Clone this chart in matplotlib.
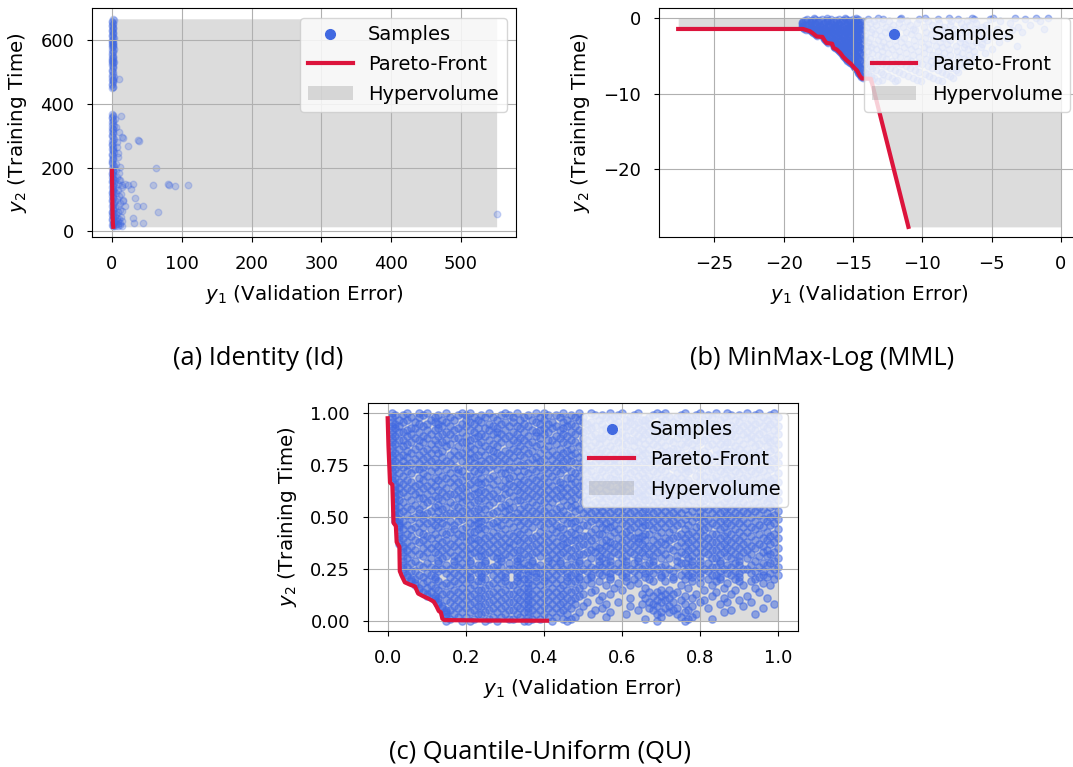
import matplotlib.pyplot as plt
from matplotlib.lines import Line2D
from matplotlib.patches import Patch

plt.rcParams['font.family'] = ['DejaVu Sans']
plt.rcParams['xtick.labelsize'] = 13
plt.rcParams['ytick.labelsize'] = 13
plt.rcParams['axes.labelsize'] = 14.3

# ---------------- (a) Identity (Id) ----------------
# samples (y1, y2)
id_samples = [
    # column at y1 ~ 0, upper cluster
    (0, 450), (1, 455), (0.5, 462), (2, 468), (0, 474), (1, 480), (3, 486), (0, 492), (1.5, 500),
    (0.5, 508), (2, 515), (0, 522), (1, 528), (2.5, 531), (0, 535), (1, 540), (0.5, 546), (2, 552),
    (0, 560), (1.5, 568), (3, 574), (0, 580), (1, 585), (2, 589), (0.5, 593), (0, 598), (1, 603),
    (3, 608), (0, 614), (2, 620), (1, 626), (0, 632), (1.5, 638), (0.5, 645), (2, 652), (0, 658),
    (3, 664), (1, 667), (10.5, 478),
    (1, 452), (0, 459), (2, 471), (1, 477), (0, 484), (1, 496), (0, 504), (1, 512), (2, 519),
    (0, 528), (1, 533), (0, 538), (2, 544), (1, 549), (0, 555), (1, 563), (0, 571), (2, 578),
    (1, 582), (0, 587), (1, 591), (2, 596), (0, 601), (1, 610), (0, 618), (1, 623), (0, 629),
    (2, 635), (1, 642), (0, 649), (1, 655), (0, 662),
    # column at y1 ~ 0, lower part
    (0, 368), (1, 362), (0.5, 356), (2, 350), (0, 344), (1, 338), (3, 332), (0, 326), (1.5, 320),
    (0.5, 314), (2, 308), (0, 302), (1, 296), (2.5, 290), (0, 284), (1, 278), (0.5, 272), (2, 266),
    (0, 260), (1.5, 254), (3, 248), (0, 242), (1, 236), (2, 230), (0.5, 224), (0, 218), (1, 212),
    (3, 206), (0, 200), (2, 194), (1, 188), (0, 182), (1.5, 176), (0.5, 170), (2, 164), (0, 158),
    (3, 152), (1, 146), (0, 140), (2, 134), (1, 128), (0, 122), (1.5, 116), (0.5, 110), (2, 104),
    (0, 98), (3, 92), (1, 86), (0, 80), (2, 74), (1, 68), (0, 62), (1.5, 56), (0.5, 50), (2, 44),
    (0, 38), (3, 32), (1, 26), (0, 20), (2, 15),
    (1, 365), (0, 359), (1, 347), (0, 335), (2, 323), (1, 311), (0, 299), (1, 287), (0, 275),
    (2, 263), (1, 251), (0, 239), (1, 227), (0, 215), (2, 203), (1, 191), (0, 179), (1, 167),
    (0, 155), (2, 143), (1, 131), (0, 119), (1, 107), (0, 95), (2, 83), (1, 71), (0, 59), (1, 47),
    (0, 35), (2, 23), (1, 17),
    # fan close to the front
    (4, 18), (6, 22), (9, 16), (12, 20), (15, 17), (5, 28), (8, 33), (11, 27), (14, 31), (7, 42),
    (10, 38), (4, 47), (13, 45), (6, 55), (9, 60), (12, 66), (5, 72), (8, 80), (11, 88), (4, 94),
    (7, 102), (10, 112), (6, 120), (9, 130), (5, 140), (8, 150), (4, 160), (7, 170), (10, 182),
    (6, 192), (14, 64), (16, 95), (13, 118), (15, 138), (11, 160), (3, 125), (3, 58), (5, 36),
    (8, 24), (8, 245), (7, 281), (10, 312), (4, 352), (9, 232), (6, 210),
    # scattered
    (12.9, 362), (5.7, 327), (14.6, 297), (16, 294), (23.4, 268), (37.7, 287), (39, 285),
    (6.7, 266), (11.5, 203), (62.6, 198), (30.6, 148), (26.7, 132), (59.3, 146), (80, 148),
    (81, 145), (89.6, 143), (109, 146), (33, 106), (35.4, 79), (45, 79), (66.4, 60), (29.6, 43),
    (32, 26), (44, 26), (18.6, 78), (16.2, 99), (14, 146), (9.6, 162), (18.6, 148), (22.4, 144),
    (551, 54),
]
id_front_x = [0.0, 0.3, 0.6, 0.9, 1.3, 1.8]
id_front_y = [190, 140, 90, 50, 25, 14]
id_ref = (551, 668)

# ---------------- (b) MinMax-Log (MML) ----------------
mml_front_x = [-27.6, -18.6, -18.1, -17.9, -17.6, -17.2, -17.05, -16.9, -16.5, -16.4, -16.15,
               -15.9, -15.7, -15.45, -15.15, -14.9, -14.7, -14.5, -14.35, -13.7, -11.0]
mml_front_y = [-1.4, -1.4, -1.7, -1.95, -2.4, -2.45, -2.9, -3.25, -3.35, -3.9, -4.15,
               -4.6, -5.1, -5.55, -6.0, -6.55, -6.9, -7.6, -7.95, -8.0, -27.6]
mml_ref = (0.0, 0.0)
# samples listed row by row: one y2 value, many y1 values
mml_row_y = [0.0, -0.1, -0.22, -0.35, -0.47, -0.6, -0.72, -0.85, -0.97, -1.1, -1.22, -1.35,
             -1.47, -1.6, -1.72, -1.85, -1.97, -2.1, -2.22, -2.35, -2.47, -2.6, -2.72, -2.85,
             -2.97, -3.1, -3.22, -3.35, -3.47, -3.6, -3.72, -3.85, -3.97, -4.1, -4.22, -4.35,
             -4.47, -4.6, -4.72, -4.85, -4.97, -5.1, -5.22, -5.35, -5.47, -5.6, -5.72, -5.85,
             -5.97, -6.1, -6.22, -6.35, -6.47, -6.6, -6.72, -6.85, -6.97, -7.1, -7.22, -7.35,
             -7.47, -7.6, -7.72, -7.85, -8.1, -8.3]
mml_row_x = [
    [-17.8, -16.9, -15.6, -14.8, -13.2, -11.5, -9.8, -8.1, -6.4, -4.9, -3.3, -1.8, -0.9],
    [-18.3, -17.7, -17.2, -16.6, -16.0, -15.5, -15.0, -14.6, -13.9, -12.8, -11.6, -10.2, -8.9, -7.4, -6.3, -5.1, -2.6],
    [-18.45, -17.95, -17.45, -16.85, -16.25, -15.75, -15.25, -14.75],
    [-18.6, -18.1, -17.5, -16.9, -16.4, -15.8, -15.3, -14.8, -14.3, -13.5, -12.4, -11.1, -9.6, -7.9, -6.8, -4.4, -1.5],
    [-18.65, -18.05, -17.55, -17.0, -16.45, -15.95, -15.45, -14.95, -14.5],
    [-18.7, -18.2, -17.7, -17.1, -16.6, -16.1, -15.6, -15.1, -14.6, -13.8, -12.9, -11.7, -10.4, -8.8, -7.2, -6.1, -3.7],
    [-18.7, -18.1, -17.6, -17.05, -16.5, -16.0, -15.45, -14.95, -14.5],
    [-18.6, -18.0, -17.4, -16.8, -16.3, -15.9, -15.3, -14.9, -14.4, -13.3, -12.1, -10.9, -9.3, -8.0, -6.6, -5.4, -2.2],
    [-18.65, -18.15, -17.6, -17.1, -16.55, -16.05, -15.5, -15.05, -14.55],
    [-18.7, -18.3, -17.8, -17.2, -16.7, -16.2, -15.7, -15.2, -14.7, -14.0, -12.6, -11.4, -9.9, -8.4, -7.0, -5.7, -3.1],
    [-18.6, -18.1, -17.6, -17.05, -16.55, -16.0, -15.5, -15.0, -14.55],
    [-18.5, -18.0, -17.5, -17.0, -16.4, -15.9, -15.4, -14.9, -14.5, -13.6, -12.3, -10.7, -9.1, -7.7, -6.2, -4.6, -1.2],
    [-18.35, -17.9, -17.35, -16.85, -16.3, -15.8, -15.3, -14.8],
    [-18.2, -17.8, -17.3, -16.8, -16.3, -15.7, -15.2, -14.7, -14.2, -13.1, -11.9, -10.5, -8.6, -7.1, -5.9, -3.5],
    [-18.0, -17.6, -17.05, -16.55, -16.05, -15.5, -15.0, -14.55],
    [-17.95, -17.5, -17.0, -16.5, -16.0, -15.5, -15.0, -14.6, -13.7, -12.7, -11.2, -9.7, -8.3, -6.9, -5.2, -2.8],
    [-17.85, -17.4, -16.9, -16.4, -15.9, -15.4, -14.9],
    [-17.75, -17.3, -16.8, -16.3, -15.8, -15.3, -14.8, -14.4, -13.4, -12.2, -10.8, -9.4, -7.8, -6.5, -4.1],
    [-17.65, -17.2, -16.65, -16.15, -15.65, -15.15, -14.6],
    [-17.6, -17.1, -16.6, -16.1, -15.6, -15.1, -14.7, -14.1, -13.0, -11.8, -10.3, -8.9, -7.5, -6.0, -4.8],
    [-17.15, -16.7, -16.2, -15.7, -15.2, -14.7],
    [-17.1, -16.65, -16.2, -15.7, -15.25, -14.8, -14.4, -13.8, -12.5, -11.3, -9.8, -8.5, -7.2, -5.6, -3.9],
    [-17.05, -16.6, -16.1, -15.6, -15.1, -14.6],
    [-17.0, -16.55, -16.05, -15.55, -15.05, -14.6, -14.2, -13.2, -12.0, -10.6, -9.2, -8.0, -6.7, -5.3],
    [-16.95, -16.5, -16.0, -15.55, -15.05, -14.6],
    [-16.9, -16.45, -16.0, -15.5, -15.0, -14.6, -13.9, -12.8, -11.5, -10.1, -8.7, -7.3, -6.1, -4.5],
    [-16.8, -16.35, -15.85, -15.35, -14.9],
    [-16.45, -16.05, -15.6, -15.15, -14.75, -14.4, -13.5, -12.4, -11.0, -9.6, -8.2, -6.9, -5.7],
    [-16.4, -16.0, -15.55, -15.1, -14.65],
    [-16.4, -15.95, -15.5, -15.0, -14.6, -14.0, -13.0, -11.9, -10.5, -9.0, -7.6, -6.4, -3.2],
    [-16.35, -15.9, -15.45, -14.95, -14.5],
    [-16.35, -15.85, -15.4, -14.9, -14.5, -13.7, -12.7, -11.3, -9.9, -8.6, -7.0, -5.8],
    [-16.3, -15.8, -15.35, -14.85],
    [-16.15, -15.7, -15.2, -14.8, -14.3, -13.3, -12.2, -10.8, -9.5, -8.1, -6.7, -5.0],
    [-16.05, -15.6, -15.1, -14.65],
    [-16.0, -15.5, -15.0, -14.6, -13.9, -12.9, -11.7, -10.3, -8.9, -7.5, -6.3],
    [-15.95, -15.45, -15.0, -14.5],
    [-15.85, -15.4, -14.9, -14.5, -13.6, -12.5, -11.2, -9.9, -8.4, -7.1, -5.5],
    [-15.8, -15.35, -14.85],
    [-15.75, -15.3, -14.8, -14.3, -13.2, -12.0, -10.7, -9.3, -8.0, -6.6],
    [-15.7, -15.25, -14.75],
    [-15.65, -15.2, -14.7, -14.1, -12.9, -11.6, -10.2, -8.8, -7.4, -6.2],
    [-15.6, -15.1, -14.65],
    [-15.5, -15.0, -14.6, -13.8, -12.6, -11.1, -9.7, -8.5, -7.0],
    [-15.45, -14.95, -14.5],
    [-15.4, -14.9, -14.5, -13.5, -12.2, -10.8, -9.4, -8.1, -6.8],
    [-15.3, -14.85],
    [-15.2, -14.8, -14.3, -13.2, -11.9, -10.4, -9.0, -7.7, -6.5],
    [-15.15, -14.7],
    [-15.05, -14.7, -14.1, -12.9, -11.5, -10.0, -8.6, -7.3],
    [-15.0, -14.6],
    [-14.95, -14.6, -13.8, -12.6, -11.2, -9.6, -8.3, -7.0],
    [-14.9, -14.5],
    [-14.85, -14.5, -13.6, -12.3, -10.9, -9.3, -7.9],
    [-14.75, -14.4],
    [-14.7, -14.3, -13.3, -12.0, -10.5, -8.9, -7.6],
    [-14.65],
    [-14.6, -14.1, -13.0, -11.7, -10.2, -8.6, -7.4],
    [-14.6],
    [-14.55, -13.9, -12.8, -11.4, -9.8, -8.3],
    [-14.5],
    [-14.45, -13.7, -12.5, -11.0, -9.5, -8.0],
    [-14.4],
    [-14.3, -13.5, -12.2, -10.7, -9.2, -7.8],
    [-13.6, -12.9, -11.8, -10.4, -8.9],
    [-13.2, -12.0, -10.1, -8.6],
]

# ---------------- (c) Quantile-Uniform (QU) ----------------
qu_front_x = [0.000, 0.002, 0.006, 0.012, 0.015, 0.021, 0.023, 0.030, 0.031, 0.036, 0.044, 0.057,
              0.070, 0.078, 0.091, 0.104, 0.118, 0.125, 0.131, 0.136, 0.140, 0.145, 0.250, 0.408]
qu_front_y = [0.976, 0.844, 0.666, 0.655, 0.472, 0.456, 0.379, 0.356, 0.239, 0.216, 0.185, 0.174,
              0.165, 0.131, 0.118, 0.107, 0.092, 0.069, 0.046, 0.041, 0.010, 0.003, 0.001, 0.000]
qu_ref = (1.0, 1.0)
# samples row by row, values in hundredths
qu_row_y = [100, 99, 98, 97, 96, 95, 94, 93, 92, 91, 90, 89, 88, 87, 86, 85, 84, 83, 82, 81, 80,
            79, 78, 77, 76, 75, 74, 73, 72, 71, 70, 69, 68, 67, 66, 65, 64, 63, 62, 61, 60,
            59, 58, 57, 56, 55, 54, 53, 52, 51, 50, 49, 48, 47, 46, 45, 44, 43, 42, 41, 40,
            39, 38, 37, 36, 35, 34, 33, 32, 31, 30, 29, 28, 27, 26, 25, 24, 23, 22, 21, 20,
            19, 18, 17, 16, 15, 14, 13, 12, 11, 10, 9, 8, 7, 6, 5, 4, 3, 2, 1, 0]
qu_row_x = [
    [1, 5, 8, 10, 15, 19, 21, 26, 30, 33, 38, 40, 45, 49, 52, 57, 60, 64, 69, 71, 76, 80, 84, 87, 92, 95, 99],
    [2, 4, 9, 13, 18, 20, 24, 29, 31, 36, 41, 43, 47, 53, 55, 59, 63, 68, 70, 75, 79, 82, 88, 90, 94, 98],
    [1, 6, 8, 12, 16, 22, 25, 27, 32, 35, 39, 44, 48, 50, 56, 58, 62, 67, 72, 74, 78, 83, 86, 91, 96, 100],
    [3, 5, 11, 14, 17, 20, 23, 28, 34, 37, 40, 46, 49, 54, 57, 61, 65, 66, 71, 77, 81, 85, 89, 93, 97],
    [1, 4, 7, 12, 15, 21, 24, 30, 32, 38, 42, 45, 50, 52, 59, 62, 64, 70, 73, 76, 80, 87, 90, 95, 99],
    [2, 8, 10, 13, 19, 22, 26, 29, 35, 39, 41, 47, 51, 55, 58, 63, 67, 69, 74, 79, 83, 84, 92, 94, 98],
    [1, 3, 9, 14, 16, 20, 27, 31, 33, 36, 43, 46, 48, 53, 60, 61, 66, 71, 75, 78, 82, 88, 91, 96, 100],
    [2, 6, 7, 13, 18, 23, 25, 28, 34, 40, 42, 45, 52, 56, 57, 64, 68, 70, 76, 80, 85, 89, 93, 97],
    [1, 5, 10, 12, 17, 21, 26, 30, 37, 39, 44, 49, 51, 55, 62, 65, 69, 73, 77, 81, 86, 90, 94, 99],
    [3, 4, 8, 15, 19, 22, 28, 32, 35, 38, 41, 47, 50, 58, 60, 63, 67, 72, 74, 79, 84, 87, 92, 96],
    [1, 6, 11, 14, 16, 24, 27, 29, 33, 40, 45, 48, 53, 56, 59, 66, 70, 75, 78, 83, 88, 91, 95, 100],
    [2, 5, 9, 13, 20, 23, 25, 31, 36, 38, 43, 46, 52, 57, 61, 64, 68, 71, 77, 80, 85, 89, 93, 98],
    [1, 7, 10, 17, 18, 22, 28, 30, 34, 39, 44, 50, 54, 55, 60, 65, 69, 74, 76, 82, 86, 92, 94, 97],
    [3, 4, 8, 12, 15, 21, 26, 32, 35, 41, 42, 47, 51, 58, 62, 63, 67, 72, 79, 81, 84, 90, 96, 99],
    [1, 6, 9, 14, 19, 20, 24, 29, 33, 37, 45, 48, 53, 56, 59, 64, 70, 73, 77, 80, 87, 88, 93, 98],
    [2, 5, 11, 13, 16, 23, 27, 31, 36, 39, 43, 46, 50, 54, 61, 66, 68, 75, 78, 83, 85, 91, 95, 100],
    [1, 4, 8, 15, 18, 21, 25, 28, 34, 38, 41, 49, 52, 57, 60, 63, 69, 71, 76, 82, 86, 89, 94, 97],
    [3, 7, 10, 12, 20, 22, 26, 32, 35, 40, 44, 47, 51, 55, 58, 65, 67, 73, 74, 79, 84, 90, 92, 99],
    [1, 5, 9, 14, 17, 24, 27, 30, 33, 37, 42, 46, 53, 56, 62, 64, 70, 72, 78, 81, 87, 88, 95, 98],
    [2, 6, 11, 13, 19, 21, 28, 31, 36, 39, 45, 48, 50, 54, 59, 61, 66, 71, 75, 80, 85, 91, 93, 96],
    [1, 4, 8, 16, 18, 23, 25, 29, 34, 41, 43, 47, 52, 57, 60, 65, 68, 74, 77, 82, 84, 89, 94, 100],
    [3, 5, 10, 14, 20, 22, 27, 32, 35, 38, 44, 49, 51, 55, 62, 63, 69, 72, 76, 79, 86, 90, 92, 97],
    [1, 7, 9, 12, 17, 21, 26, 30, 37, 40, 42, 46, 54, 56, 58, 64, 67, 73, 78, 81, 83, 88, 95, 99],
    [2, 4, 11, 15, 19, 24, 28, 31, 33, 39, 45, 47, 50, 57, 61, 66, 70, 71, 75, 80, 87, 91, 93, 98],
    [1, 6, 8, 13, 16, 22, 25, 29, 36, 38, 43, 48, 53, 55, 59, 62, 68, 74, 77, 82, 85, 89, 96, 100],
    [3, 5, 10, 14, 20, 23, 27, 34, 35, 41, 44, 51, 52, 58, 63, 65, 69, 72, 79, 81, 86, 90, 94, 97],
    [1, 4, 9, 12, 17, 21, 26, 30, 32, 39, 42, 46, 49, 56, 60, 64, 67, 73, 76, 80, 84, 88, 92, 99],
    [2, 7, 8, 15, 18, 24, 28, 31, 37, 40, 45, 50, 54, 57, 61, 66, 70, 75, 78, 83, 87, 91, 95, 98],
    [1, 5, 11, 13, 19, 22, 25, 33, 35, 38, 43, 47, 52, 55, 59, 63, 68, 71, 77, 82, 85, 89, 93, 96],
    [3, 6, 9, 16, 18, 23, 29, 30, 36, 41, 44, 48, 51, 58, 62, 65, 69, 74, 76, 80, 86, 90, 94, 100],
    [1, 4, 10, 14, 20, 21, 27, 32, 34, 39, 42, 49, 53, 56, 60, 64, 67, 72, 79, 81, 84, 88, 92, 97],
    [2, 8, 12, 15, 17, 24, 26, 31, 37, 40, 46, 47, 54, 57, 61, 66, 70, 73, 75, 83, 87, 91, 95, 99],
    [1, 5, 9, 13, 19, 22, 28, 30, 35, 38, 43, 50, 52, 58, 59, 63, 68, 71, 77, 80, 85, 89, 93, 98],
    [3, 6, 11, 16, 18, 23, 25, 33, 36, 41, 44, 48, 51, 55, 62, 65, 69, 74, 76, 82, 84, 90, 96, 100],
    [2, 4, 8, 14, 21, 24, 27, 31, 34, 39, 45, 47, 53, 56, 60, 64, 67, 72, 78, 81, 86, 88, 94, 97],
    [2, 7, 10, 12, 17, 20, 29, 32, 37, 40, 42, 49, 50, 57, 61, 66, 70, 73, 75, 80, 85, 91, 92, 99],
    [3, 5, 9, 15, 19, 22, 26, 30, 35, 38, 44, 46, 52, 54, 59, 63, 68, 71, 77, 79, 87, 89, 95, 98],
    [2, 6, 11, 13, 18, 24, 28, 33, 36, 41, 43, 48, 51, 56, 60, 65, 67, 74, 76, 82, 84, 90, 93, 96],
    [2, 4, 8, 14, 20, 23, 25, 31, 34, 39, 45, 47, 53, 58, 61, 64, 69, 72, 78, 81, 86, 88, 94, 100],
    [3, 7, 10, 16, 17, 22, 27, 30, 37, 40, 42, 49, 52, 55, 59, 63, 66, 71, 75, 80, 85, 91, 92, 97],
    [2, 5, 12, 15, 19, 21, 26, 32, 35, 38, 44, 46, 50, 57, 62, 65, 68, 73, 77, 79, 83, 89, 95, 99],
    [2, 8, 9, 13, 18, 24, 28, 29, 36, 41, 43, 48, 54, 56, 60, 64, 70, 72, 76, 82, 87, 90, 93, 98],
    [3, 6, 11, 14, 20, 23, 25, 33, 34, 39, 45, 47, 51, 58, 61, 66, 67, 74, 78, 81, 84, 88, 96, 100],
    [2, 4, 10, 16, 19, 22, 27, 31, 37, 40, 42, 50, 53, 55, 59, 63, 69, 71, 75, 80, 86, 91, 94, 97],
    [2, 7, 9, 13, 17, 21, 26, 30, 35, 38, 46, 48, 52, 57, 62, 65, 68, 73, 77, 83, 85, 89, 92, 99],
    [3, 5, 12, 15, 18, 24, 29, 32, 36, 41, 44, 47, 54, 56, 60, 64, 70, 72, 79, 81, 87, 90, 95, 98],
    [2, 6, 8, 14, 20, 23, 25, 31, 34, 39, 43, 49, 51, 58, 61, 66, 67, 74, 76, 82, 84, 88, 93, 96],
    [2, 4, 11, 13, 19, 22, 28, 30, 37, 40, 45, 48, 53, 55, 59, 63, 69, 71, 78, 80, 86, 91, 94, 100],
    [3, 8, 10, 16, 17, 21, 27, 33, 35, 38, 42, 50, 52, 57, 62, 65, 68, 73, 75, 83, 85, 89, 92, 97],
    [2, 5, 9, 15, 18, 24, 26, 31, 36, 41, 44, 46, 54, 56, 60, 64, 70, 72, 77, 81, 87, 90, 95, 99],
    [2, 7, 12, 14, 20, 23, 29, 32, 34, 39, 43, 47, 51, 58, 61, 66, 67, 74, 79, 80, 84, 88, 93, 98],
    [3, 6, 9, 13, 19, 22, 25, 30, 37, 40, 45, 49, 53, 55, 59, 63, 69, 71, 76, 82, 86, 91, 96, 100],
    [2, 4, 11, 16, 18, 24, 28, 33, 35, 38, 42, 48, 52, 57, 62, 65, 68, 73, 78, 81, 85, 89, 94, 97],
    [3, 8, 10, 14, 21, 23, 27, 31, 36, 41, 46, 47, 54, 56, 60, 64, 70, 72, 75, 83, 87, 90, 92, 99],
    [3, 5, 12, 15, 17, 22, 26, 29, 34, 39, 43, 50, 51, 58, 61, 66, 67, 74, 77, 80, 84, 88, 95, 98],
    [3, 7, 9, 13, 20, 24, 28, 32, 37, 40, 44, 48, 55, 57, 63, 65, 69, 71, 79, 82, 86, 91, 93, 96],
    [4, 6, 11, 17, 19, 23, 25, 30, 35, 42, 45, 49, 53, 56, 59, 62, 68, 73, 76, 81, 85, 89, 94, 100],
    [3, 8, 14, 16, 21, 22, 27, 33, 36, 39, 43, 47, 52, 58, 61, 64, 70, 72, 78, 80, 87, 90, 92, 97],
    [5, 9, 12, 15, 18, 24, 29, 31, 34, 41, 46, 48, 54, 55, 60, 66, 67, 75, 77, 83, 84, 88, 95, 99],
    [3, 6, 10, 19, 20, 26, 28, 32, 38, 40, 44, 50, 51, 57, 62, 65, 69, 74, 79, 81, 86, 91, 93, 98],
    [4, 11, 13, 17, 22, 25, 30, 35, 37, 42, 45, 49, 53, 59, 63, 64, 71, 73, 76, 82, 85, 89, 96, 100],
    [3, 7, 9, 15, 21, 23, 27, 33, 36, 39, 47, 48, 52, 56, 61, 66, 68, 72, 78, 80, 87, 90, 94, 97],
    [5, 8, 14, 18, 20, 24, 29, 31, 34, 41, 43, 46, 55, 57, 60, 64, 70, 75, 77, 83, 84, 88, 92, 99],
    [3, 10, 12, 16, 22, 26, 28, 32, 38, 40, 45, 50, 51, 58, 62, 65, 69, 71, 79, 81, 86, 91, 95, 98],
    [4, 6, 13, 17, 19, 25, 30, 35, 37, 42, 44, 49, 53, 56, 59, 63, 67, 74, 76, 82, 85, 89, 93, 96],
    [4, 9, 11, 15, 21, 23, 27, 31, 36, 39, 46, 48, 54, 57, 61, 66, 68, 72, 78, 80, 87, 90, 94, 100],
    [5, 7, 14, 18, 20, 24, 29, 33, 34, 41, 43, 47, 52, 55, 60, 64, 70, 73, 77, 83, 84, 88, 92, 97],
    [4, 10, 12, 16, 22, 26, 28, 32, 38, 40, 45, 51, 53, 58, 62, 65, 69, 75, 79, 81, 86, 91, 96, 99],
    [6, 8, 13, 19, 21, 25, 30, 35, 37, 42, 44, 49, 50, 56, 59, 63, 67, 71, 76, 82, 85, 89, 93, 98],
    [4, 9, 15, 17, 23, 24, 27, 31, 36, 39, 46, 48, 54, 57, 61, 66, 68, 74, 78, 80, 87, 90, 95, 97],
    [5, 11, 14, 18, 20, 28, 29, 33, 34, 41, 43, 47, 52, 55, 60, 64, 70, 72, 77, 83, 84, 88, 92, 100],
    [4, 7, 13, 17, 21, 25, 29, 33, 37, 41, 44, 49, 54, 57, 61, 64, 68, 74, 78, 80, 85, 90, 94, 99],
    [6, 10, 13, 19, 21, 25, 31, 35, 37, 42, 44, 49, 51, 56, 59, 63, 67, 75, 76, 82, 85, 89, 96, 98],
    [4, 8, 15, 17, 23, 24, 28, 33, 36, 39, 46, 48, 54, 57, 61, 66, 68, 71, 78, 80, 87, 90, 93, 97],
    [5, 9, 11, 18, 20, 27, 29, 34, 38, 41, 43, 47, 52, 55, 60, 64, 70, 74, 77, 83, 84, 88, 95, 100],
    [4, 12, 14, 16, 22, 26, 31, 32, 35, 40, 45, 50, 53, 58, 62, 65, 69, 72, 79, 81, 86, 91, 92, 99],
    [6, 7, 13, 19, 21, 25, 28, 36, 37, 42, 44, 49, 51, 56, 59, 63, 67, 73, 76, 82, 85, 89, 94, 96],
    [4, 10, 15, 17, 23, 24, 30, 33, 38, 39, 46, 48, 54, 57, 61, 66, 68, 71, 78, 80, 87, 90, 93, 98],
    [5, 8, 11, 18, 20, 27, 29, 34, 36, 41, 43, 47, 52, 55, 60, 64, 70, 75, 77, 83, 84, 88, 96, 100],
    [5, 9, 12, 16, 21, 24, 30, 33, 38, 40, 46, 49, 52, 57, 61, 66, 70, 73, 78, 80, 85, 90, 95, 97],
    [6, 7, 12, 19, 21, 25, 28, 35, 36, 42, 44, 49, 51, 57, 63, 67, 73, 76, 82, 85, 89, 94, 99],
    [6, 10, 13, 17, 23, 24, 30, 33, 38, 40, 46, 48, 54, 61, 68, 71, 78, 84, 90, 93],
    [7, 9, 15, 18, 20, 27, 29, 34, 36, 41, 43, 47, 52, 59, 64, 80, 87, 96],
    [7, 11, 14, 16, 22, 26, 31, 32, 37, 39, 45, 50, 56, 62, 75, 83, 91, 98],
    [8, 10, 12, 19, 21, 25, 28, 35, 36, 42, 44, 49, 58, 66, 77, 86, 94],
    [8, 13, 17, 23, 24, 30, 33, 38, 40, 46, 48, 53, 60, 70, 72, 81, 89],
    [9, 11, 15, 18, 20, 27, 29, 34, 36, 41, 43, 47, 52, 67, 69, 74, 84, 95],
    [10, 14, 16, 22, 26, 31, 32, 37, 39, 45, 50, 57, 65, 71, 73, 79, 88],
    [10, 12, 19, 21, 25, 28, 35, 36, 42, 44, 49, 55, 68, 70, 76, 83, 92],
    [12, 13, 17, 23, 24, 30, 33, 38, 40, 46, 48, 62, 66, 72, 78, 86, 97],
    [12, 15, 18, 20, 27, 29, 34, 36, 41, 43, 47, 54, 69, 71, 75, 81, 90],
    [13, 16, 22, 26, 31, 32, 37, 39, 45, 51, 59, 67, 70, 73, 80, 87, 93],
    [13, 19, 21, 25, 28, 35, 36, 42, 44, 48, 56, 65, 68, 76, 85, 99],
    [14, 17, 23, 24, 30, 33, 38, 40, 46, 50, 62, 69, 72, 78, 91],
    [14, 18, 20, 27, 29, 34, 36, 41, 43, 47, 55, 67, 71, 74, 82, 96],
    [15, 16, 22, 26, 31, 32, 37, 39, 45, 53, 64, 68, 73, 77, 88],
    [15, 19, 21, 25, 28, 35, 36, 42, 44, 49, 57, 70, 72, 76, 86],
    [15, 17, 23, 24, 30, 33, 38, 40, 46, 52, 61, 69, 74, 79, 94],
    [15, 18, 20, 27, 29, 34, 36, 41, 43, 48, 56, 70, 75, 78],
    [16, 22, 26, 31, 32, 37, 39, 45, 47, 66, 77, 83],
    [15, 19, 21, 25, 28, 35, 36, 42, 46, 69, 76],
]


def rows_to_points(row_y, row_x, scale=1.0):
    xs, ys = [], []
    for y, row in zip(row_y, row_x, strict=True):
        for x in row:
            xs.append(x / scale)
            ys.append(y / scale)
    return xs, ys


def draw_panel(ax, sx, sy, fx, fy, ref, xlim, ylim, size, alpha):
    # hypervolume: area between the front and the reference point
    hx = list(fx) + [ref[0]]
    hy = list(fy) + [fy[-1]]
    ax.fill_between(hx, hy, ref[1], color='grey', alpha=0.27, lw=0)
    ax.scatter(sx, sy, s=size, color='royalblue', alpha=alpha)
    ax.plot(fx, fy, color='crimson', lw=3)
    ax.grid(True)
    ax.set_xlim(xlim)
    ax.set_ylim(ylim)
    ax.tick_params(pad=9.5)
    ax.set_xlabel('$y_1$ (Validation Error)', labelpad=7)
    ax.set_ylabel('$y_2$ (Training Time)', labelpad=8)
    handles = [Line2D([], [], ls='', marker='o', color='royalblue', markersize=7),
               Line2D([], [], color='crimson', lw=3),
               Patch(facecolor='grey', alpha=0.27)]
    ax.legend(handles, ['Samples', 'Pareto-Front', 'Hypervolume'], loc='upper right',
              fontsize=14, handlelength=2.3, labelspacing=0.55)


fig = plt.figure(figsize=(10.73, 7.67), dpi=100)

ax_a = fig.add_axes([0.0860, 0.6906, 0.3952, 0.2990])
draw_panel(ax_a, [p[0] for p in id_samples], [p[1] for p in id_samples],
           id_front_x, id_front_y, id_ref, (-28.2, 579.2), (-19, 702), 22, 0.25)

ax_b = fig.add_axes([0.6142, 0.6906, 0.3924, 0.2990])
bx, by = rows_to_points(mml_row_y, mml_row_x)
draw_panel(ax_b, bx, by, mml_front_x, mml_front_y, mml_ref, (-28.98, 1.38), (-28.98, 1.38), 22, 0.4)

ax_c = fig.add_axes([0.3431, 0.1772, 0.4004, 0.2975])
cx, cy = rows_to_points(qu_row_y, qu_row_x, scale=100)
draw_panel(ax_c, cx, cy, qu_front_x, qu_front_y, qu_ref, (-0.05, 1.05), (-0.05, 1.05), 28, 0.52)
ax_c.set_yticks([0.0, 0.25, 0.5, 0.75, 1.0])

# sub-captions
cap = dict(family=['Open Sans', 'DejaVu Sans'], fontsize=18.4, ha='center', va='center')
fig.text(0.2405, 0.533, '(a) Identity (Id)', **cap)
fig.text(0.766, 0.533, '(b) MinMax-Log (MML)', **cap)
fig.text(0.503, 0.0196, '(c) Quantile-Uniform (QU)', **cap)

fig.savefig('out.png', dpi=100)
